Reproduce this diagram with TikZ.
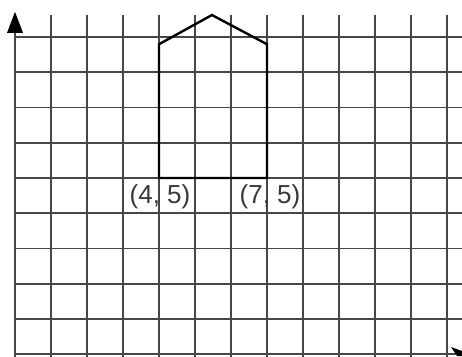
\documentclass[tikz,border=0pt]{standalone}
\usepackage{fontspec}
\setmainfont{Liberation Sans}
\begin{document}
\begin{tikzpicture}[x=36pt,y=35.2pt,
  gridline/.style={draw=black!72,line width=1.8pt},
  shapeline/.style={draw=black,line width=2.4pt,line join=miter},
  ptlabel/.style={font=\fontsize{26}{30}\selectfont,text=black!78,inner sep=0pt}]
\useasboundingbox (-15pt,-2pt) rectangle (447pt,354pt);
% grid
\foreach \i in {0,...,12} \draw[gridline] (\i,-0.2) -- (\i,9.63);
\foreach \j in {0,...,9} \draw[gridline] (0,\j) -- (12.5,\j);
% y-axis arrow
\coordinate (ytip) at (0,9.72);
\fill[black] (ytip) -- ([xshift=-8pt,yshift=-21pt]ytip) -- ([xshift=8pt,yshift=-21pt]ytip) -- cycle;
% x-axis arrow (cut off at edge)
\fill[black] (436pt,7pt) -- (447pt,3pt) -- (447pt,-2pt) -- (442pt,-2pt) -- cycle;
% shape
\coordinate (A) at (4,5);
\coordinate (B) at (4,8.8);
\coordinate (C) at (5.47,9.63);
\coordinate (D) at (7,8.8);
\coordinate (E) at (7,5);
\draw[shapeline] (A) -- (B) -- (C) -- (D) -- (E) -- cycle;
% labels
\node[ptlabel] (la) at ([xshift=1pt,yshift=-19pt]A) {(4, 5)};
\node[ptlabel] (lb) at ([xshift=3pt,yshift=-19pt]E) {(7, 5)};
\end{tikzpicture}
\end{document}
